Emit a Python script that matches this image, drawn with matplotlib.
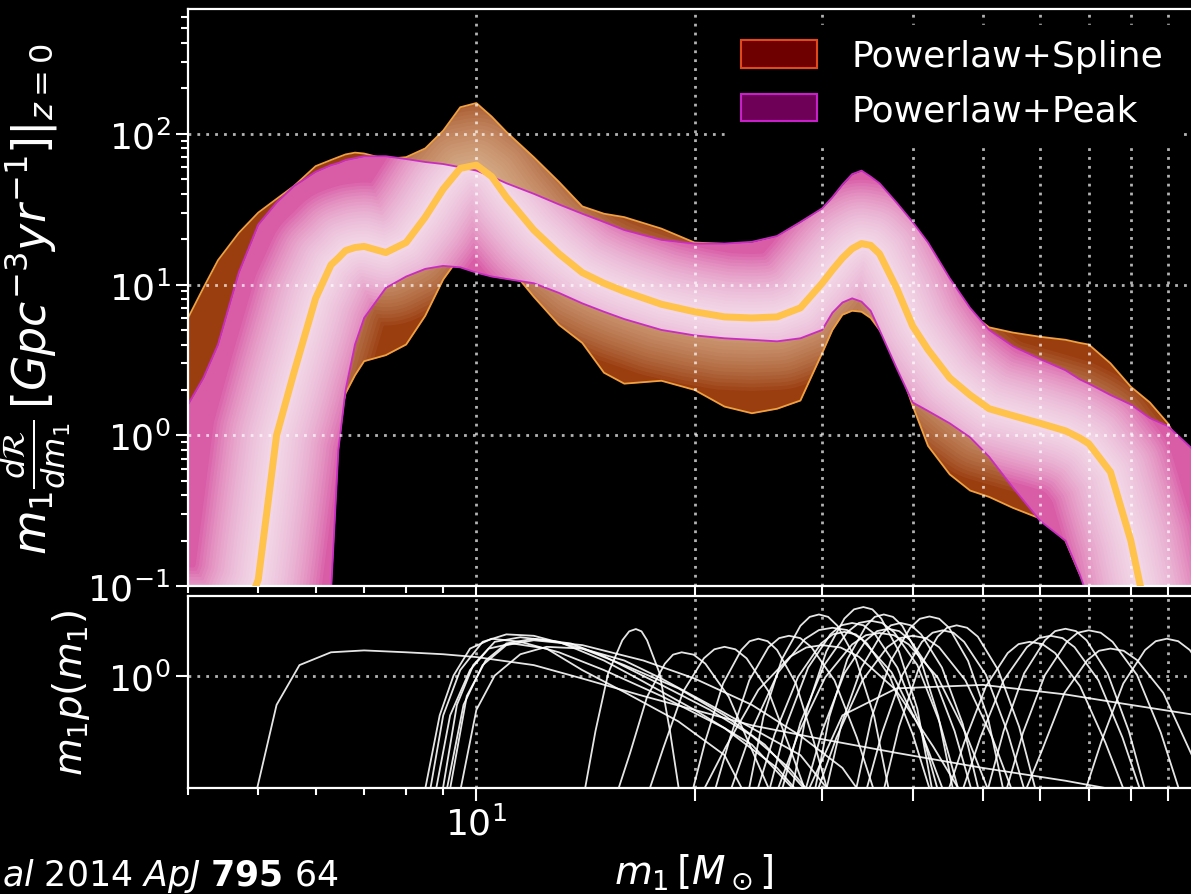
import numpy as np
import matplotlib
matplotlib.use("Agg")
import matplotlib.pyplot as plt
from matplotlib.patches import Patch
from matplotlib.ticker import FixedLocator, FixedFormatter, NullLocator, LogLocator, NullFormatter

# ---------------- data ----------------
m_grid = [3.9, 4.0, 4.2, 4.4, 4.7, 5.0, 5.3, 5.6, 6.0, 6.3, 6.45, 6.6, 6.8, 7.0, 7.5, 8.0, 8.5, 9.0, 9.5, 10,
          10.5, 11, 12, 13, 14, 15, 16, 18, 20, 22, 24, 26, 28, 30, 31, 32, 33, 34, 35, 36,
          38, 40, 42, 45, 48, 51, 55, 60, 65, 68, 70, 75, 80, 85, 90, 99]

spline_hi = [5.0, 6.0, 9.5, 14.5, 22, 30, 37, 45, 61, 67, 70, 73, 75, 74, 68, 70, 80, 105, 150, 160,
             130, 103, 70, 48, 33, 29.5, 28, 23.5, 19, 18.6, 18.3, 20.5, 25, 31, 36, 41, 45, 46, 43, 39,
             30, 23.5, 16, 9.5, 6.5, 5.2, 4.8, 4.5, 4.3, 4.1, 4.0, 3.0, 2.1, 1.65, 1.2, 0.52]
spline_lo = [0.05, 0.05, 0.05, 0.05, 0.05, 0.05, 0.05, 0.05, 0.08, 0.5, 1.2, 1.9, 2.5, 3.1, 3.4, 4.0, 6.2, 10.8, 15.5, 17,
             16.5, 13.8, 8.3, 5.4, 4.1, 2.6, 2.2, 2.3, 2.0, 1.55, 1.4, 1.5, 1.7, 3.5, 5.0, 6.3, 6.7, 6.6, 6.0, 5.0,
             3.2, 1.57, 0.85, 0.55, 0.43, 0.39, 0.33, 0.28, 0.2, 0.12, 0.09, 0.05, 0.05, 0.05, 0.05, 0.05]
peak_hi = [1.4, 1.6, 2.4, 4.0, 12, 25, 35, 45, 56, 62, 64, 67, 69, 71, 71, 68, 65, 63, 60, 57,
           52, 47, 40, 34, 29.5, 26, 23, 19.8, 18.7, 18.7, 19.2, 21, 26, 32, 38, 46, 54, 57, 52, 47,
           35, 26, 19, 11, 7, 5, 3.9, 3.2, 2.7, 2.35, 2.2, 1.85, 1.6, 1.3, 1.15, 0.75]
peak_lo = [0.05, 0.05, 0.05, 0.05, 0.05, 0.05, 0.05, 0.05, 0.05, 0.09, 0.8, 2.0, 4.0, 6.0, 9.5, 11.3, 12.7, 13.3, 13.0, 12.0,
           11.3, 10.9, 10.2, 8.8, 7.5, 6.6, 5.9, 5.0, 4.6, 4.4, 4.3, 4.2, 4.4, 5.0, 6.5, 7.6, 8.1, 7.7, 6.7, 5.0,
           2.8, 1.65, 1.45, 1.2, 0.97, 0.72, 0.45, 0.27, 0.2, 0.12, 0.08, 0.05, 0.05, 0.05, 0.05, 0.05]
median = [0.05, 0.05, 0.05, 0.05, 0.05, 0.11, 1.0, 2.6, 8.1, 13.5, 15, 16.8, 17.6, 17.9, 16.3, 19, 28, 43, 59, 62,
          52, 38, 23, 16, 12, 10.2, 9.0, 7.4, 6.6, 6.1, 6.0, 6.1, 7.0, 10.2, 12.5, 15, 17.3, 18.7, 18.2, 16,
          9.5, 5.3, 3.7, 2.4, 1.85, 1.5, 1.35, 1.2, 1.07, 0.96, 0.88, 0.57, 0.2, 0.05, 0.05, 0.05]

legend_labels = ["Powerlaw+Spline", "Powerlaw+Peak"]

# individual-event curves of the lower panel: (masses, m1 p(m1))
event_curves = [
    ([4.95, 5.3, 5.7, 6.3, 7.0, 8.0, 9.0, 10, 12, 14, 17, 20, 24, 30, 38, 50, 65, 80, 99],
     [0.12, 0.6, 1.2, 1.5, 1.55, 1.5, 1.45, 1.38, 1.2, 0.95, 0.7, 0.55, 0.42, 0.33, 0.26, 0.2, 0.16, 0.13, 0.11]),
    ([8.4, 8.9, 9.3, 9.8, 10.5, 11.5, 13, 15, 18, 22, 26, 29], [0.1, 0.5, 1.0, 1.6, 1.9, 1.8, 1.5, 1.1, 0.7, 0.4, 0.2, 0.1]),
    ([8.55, 9.0, 9.5, 10.2, 11, 12, 14, 16, 19, 22, 25, 28, 30], [0.1, 0.5, 1.1, 1.8, 2.05, 2.0, 1.6, 1.2, 0.8, 0.5, 0.3, 0.15, 0.1]),
    ([8.9, 9.4, 9.9, 10.6, 11.5, 13, 15, 17, 20, 24, 27, 29], [0.1, 0.6, 1.2, 1.8, 1.95, 1.8, 1.3, 0.9, 0.55, 0.3, 0.15, 0.1]),
    ([9.0, 9.6, 10.2, 11, 12, 14, 17, 20, 24, 28, 32, 35], [0.1, 0.6, 1.2, 1.7, 1.85, 1.7, 1.3, 0.95, 0.6, 0.35, 0.2, 0.1]),
    ([9.4, 10, 10.6, 11.5, 12.5, 14, 16, 18, 21, 24, 28, 32], [0.1, 0.55, 1.0, 1.45, 1.65, 1.6, 1.3, 0.95, 0.6, 0.4, 0.25, 0.1]),
    ([9.1, 9.7, 10.3, 11, 12, 13.5, 15, 18, 21, 24, 27, 30], [0.1, 0.7, 1.3, 1.75, 1.9, 1.75, 1.4, 0.85, 0.55, 0.35, 0.2, 0.1]),
    ([8.7, 9.2, 9.8, 10.4, 11.2, 12.5, 14, 16, 19, 22, 24], [0.1, 0.5, 1.1, 1.6, 1.75, 1.6, 1.1, 0.75, 0.45, 0.25, 0.1]),
    ([13.97, 14.6, 15.2, 15.9, 16.25, 16.6, 16.9, 17.2, 17.9, 18.5, 19.2], [0.1, 0.38, 1.04, 1.85, 2.16, 2.25, 2.16, 1.85, 1.04, 0.38, 0.1]),
    ([15.4, 16.3, 17.2, 18.2, 18.68, 19.2, 19.94, 20.7, 22.3, 24.1, 26], [0.1, 0.26, 0.69, 1.23, 1.44, 1.5, 1.44, 1.23, 0.69, 0.26, 0.1]),
    ([19.6, 20.7, 21.9, 23.2, 23.83, 24.5, 25.23, 26.0, 27.6, 29.2, 31], [0.1, 0.32, 0.87, 1.56, 1.82, 1.9, 1.82, 1.56, 0.87, 0.32, 0.1]),
    ([17, 18.1, 19.3, 20.6, 21.3, 22, 22.77, 23.6, 25.3, 27.1, 29], [0.1, 0.28, 0.76, 1.35, 1.58, 1.65, 1.58, 1.35, 0.76, 0.28, 0.1]),
    ([23.5, 24.9, 26.4, 28.0, 28.84, 29.7, 30.58, 31.5, 33.4, 35.4, 37.5], [0.1, 0.49, 1.33, 2.38, 2.78, 2.9, 2.78, 2.38, 1.33, 0.49, 0.1]),
    ([27, 28.6, 30.4, 32.2, 33.2, 34.2, 35.19, 36.2, 38.3, 40.6, 43], [0.1, 0.56, 1.52, 2.7, 3.17, 3.3, 3.17, 2.7, 1.52, 0.56, 0.1]),
    ([33, 35.1, 37.3, 39.7, 40.92, 42.2, 43.52, 44.9, 47.7, 50.8, 54], [0.1, 0.48, 1.29, 2.3, 2.69, 2.8, 2.69, 2.3, 1.29, 0.48, 0.1]),
    ([28, 30.0, 32.2, 34.5, 35.73, 37, 38.32, 39.7, 42.6, 45.7, 49], [0.1, 0.38, 1.04, 1.85, 2.17, 2.26, 2.17, 1.85, 1.04, 0.38, 0.1]),
    ([24, 25.8, 27.8, 29.9, 31.04, 32.2, 33.39, 34.6, 37.2, 40.0, 43], [0.1, 0.36, 0.98, 1.75, 2.05, 2.14, 2.05, 1.75, 0.98, 0.36, 0.1]),
    ([26, 28.0, 30.2, 32.5, 33.72, 35, 36.31, 37.7, 40.6, 43.6, 47], [0.1, 0.44, 1.2, 2.13, 2.5, 2.6, 2.5, 2.13, 1.2, 0.44, 0.1]),
    ([30, 31.9, 34.0, 36.2, 37.32, 38.5, 39.78, 41.1, 43.9, 46.9, 50], [0.1, 0.43, 1.15, 2.05, 2.4, 2.5, 2.4, 2.05, 1.15, 0.43, 0.1]),
    ([22, 24.0, 26.1, 28.4, 29.7, 31, 32.48, 34.0, 37.4, 41.0, 45], [0.1, 0.39, 1.06, 1.89, 2.21, 2.3, 2.21, 1.89, 1.06, 0.39, 0.1]),
    ([25.5, 27.8, 30.3, 33.0, 34.48, 36, 37.69, 39.5, 43.3, 47.4, 52], [0.1, 0.36, 0.97, 1.72, 2.02, 2.1, 2.02, 1.72, 0.97, 0.36, 0.1]),
    ([29, 31.4, 34.1, 36.9, 38.42, 40, 41.72, 43.5, 47.3, 51.5, 56], [0.1, 0.34, 0.92, 1.64, 1.92, 2.0, 1.92, 1.64, 0.92, 0.34, 0.1]),
    ([25, 26.8, 28.7, 30.8, 31.87, 33, 34.21, 35.5, 38.1, 40.9, 44], [0.1, 0.43, 1.15, 2.05, 2.4, 2.5, 2.4, 2.05, 1.15, 0.43, 0.1]),
    ([34, 36.3, 38.7, 41.2, 42.61, 44, 45.54, 47.1, 50.5, 54.1, 58], [0.1, 0.37, 1.01, 1.8, 2.11, 2.2, 2.11, 1.8, 1.01, 0.37, 0.1]),
    ([21, 22.4, 23.8, 25.3, 26.17, 27, 27.99, 29.0, 31.2, 33.5, 36], [0.1, 0.34, 0.92, 1.64, 1.92, 2.0, 1.92, 1.64, 0.92, 0.34, 0.1]),
    ([36, 38.3, 40.7, 43.3, 44.61, 46, 47.55, 49.2, 52.5, 56.1, 60], [0.1, 0.41, 1.1, 1.97, 2.3, 2.4, 2.3, 1.97, 1.1, 0.41, 0.1]),
    ([20, 22.1, 24.5, 27.1, 28.52, 30, 31.82, 33.7, 37.9, 42.7, 48], [0.1, 0.29, 0.78, 1.39, 1.63, 1.7, 1.63, 1.39, 0.78, 0.29, 0.1]),
    ([29, 30.7, 32.5, 34.5, 35.46, 36.5, 37.57, 38.7, 41.0, 43.4, 46], [0.1, 0.49, 1.33, 2.38, 2.78, 2.9, 2.78, 2.38, 1.33, 0.49, 0.1]),
    ([50, 53.4, 57.0, 60.9, 62.9, 65, 67.2, 69.5, 74.3, 79.5, 85], [0.1, 0.38, 1.04, 1.85, 2.17, 2.26, 2.17, 1.85, 1.04, 0.38, 0.1]),
    ([46, 49.6, 53.4, 57.5, 59.7, 62, 64.4, 66.9, 72.2, 77.9, 84], [0.1, 0.34, 0.92, 1.64, 1.92, 2.0, 1.92, 1.64, 0.92, 0.34, 0.1]),
    ([44, 47.1, 50.5, 54.1, 56.0, 58, 60.4, 62.9, 68.1, 73.8, 80], [0.1, 0.31, 0.83, 1.48, 1.73, 1.8, 1.73, 1.48, 0.83, 0.31, 0.1]),
    ([53, 56.8, 60.9, 65.3, 67.6, 70, 72.7, 75.5, 81.6, 88.0, 95], [0.1, 0.37, 1.01, 1.8, 2.11, 2.2, 2.11, 1.8, 1.01, 0.37, 0.1]),
    ([68, 72.9, 78.1, 83.7, 86.6, 89.7, 93.0, 96.5, 103.8, 111.6, 120], [0.1, 0.32, 0.87, 1.56, 1.82, 1.9, 1.82, 1.56, 0.87, 0.32, 0.1]),
    ([56, 60.3, 64.8, 69.7, 72.3, 75, 78.2, 81.6, 88.7, 96.5, 105], [0.1, 0.27, 0.74, 1.31, 1.54, 1.6, 1.54, 1.31, 0.74, 0.27, 0.1]),
    ([28, 32, 38, 50, 65, 80, 99], [0.1, 0.5, 0.8, 0.85, 0.72, 0.6, 0.5]),
]

# ---------------- figure ----------------
W, H = 1191, 895
fig = plt.figure(figsize=(W / 100, H / 100), dpi=100, facecolor="black")
ax = fig.add_axes([188 / W, 1 - 587 / H, (1195 - 188) / W, (587 - 10) / H])
axb = fig.add_axes([188 / W, 1 - 789 / H, (1195 - 188) / W, (789 - 597) / H])

m = np.array(m_grid)


def band(lo, hi, base, glow_color, widths, glow_alpha, edge, z):
    poly = ax.fill_between(m, lo, hi, color=base, lw=0, zorder=z)
    clip = poly.get_paths()[0]
    for lw in widths:
        ln, = ax.plot(m, median, color=glow_color, lw=lw, alpha=glow_alpha, zorder=z + 0.1,
                      solid_joinstyle="round", solid_capstyle="round")
        ln.set_clip_path(clip, ax.transData)
    ax.plot(m, hi, color=edge, lw=1.3, zorder=z + 0.2)
    ax.plot(m, lo, color=edge, lw=1.3, zorder=z + 0.2)


band(spline_lo, spline_hi, "#9a3e10", "#f4dcbc", np.linspace(105, 5, 20), 0.06, "#f0a040", 1)
band(peak_lo, peak_hi, "#d95ca6", "#ffffff", np.linspace(92, 5, 20), 0.075, "#c82cc2", 2)

ax.plot(m, median, color="#ffc24a", lw=5.0, zorder=4, solid_capstyle="round")

for xs, ys in event_curves:
    axb.plot(xs, ys, color="white", lw=1.3, alpha=0.9, zorder=3, solid_joinstyle="round")

# ---------------- axes styling ----------------
for a in (ax, axb):
    a.set_facecolor("black")
    a.set_xscale("log")
    a.set_yscale("log")
    a.set_xlim(4.0, 98.1)
    for s in a.spines.values():
        s.set_color("white")
        s.set_linewidth(1.6)
    a.tick_params(which="both", colors="white", direction="out", labelsize=26, width=1.5)
    a.tick_params(which="major", length=9)
    a.tick_params(which="minor", length=5)
    a.xaxis.set_major_locator(FixedLocator([10, 20, 30, 40, 50, 60, 70, 80, 90]))
    a.xaxis.set_minor_locator(FixedLocator([4, 5, 6, 7, 8, 9]))
    a.xaxis.set_minor_formatter(NullFormatter())
    a.grid(True, which="major", color="white", linestyle=(0, (1, 2.2)), lw=2.0, alpha=0.7, zorder=5)
    a.set_axisbelow(False)

ax.set_ylim(0.1, 10 ** 2.828)
ax.yaxis.set_major_locator(LogLocator(base=10, numticks=10))
ax.yaxis.set_minor_locator(LogLocator(base=10, subs=np.arange(2, 10), numticks=20))
ax.yaxis.set_minor_formatter(NullFormatter())
ax.xaxis.set_major_formatter(NullFormatter())

axb.set_ylim(0.141, 4.0)
axb.yaxis.set_major_locator(FixedLocator([1.0]))
axb.yaxis.set_major_formatter(FixedFormatter([r"$10^0$"]))
axb.yaxis.set_minor_locator(NullLocator())
axb.xaxis.set_major_formatter(FixedFormatter([r"$10^1$"] + [""] * 8))

ax.set_ylabel(r"$m_1\frac{d\mathcal{R}}{dm_1}\,[Gpc^{-3}yr^{-1}]|_{z=0}$", color="white", fontsize=33)
ax.yaxis.set_label_coords(-(188 - 73) / 1007, 0.5)
axb.set_ylabel(r"$m_1p(m_1)$", color="white", fontsize=28)
axb.yaxis.set_label_coords(-(188 - 92) / 1007, 0.5)
axb.set_xlabel(r"$m_1\,[M_\odot]$", color="white", fontsize=28)
axb.xaxis.set_label_coords(0.502, -0.33)

handles = [Patch(facecolor="#6e0000", edgecolor="#e2481a", lw=1.5),
           Patch(facecolor="#6e0058", edgecolor="#c820c8", lw=1.5)]
leg = ax.legend(handles, legend_labels, loc="upper right", fontsize=26, facecolor="black",
                edgecolor="black", framealpha=1, labelcolor="white", handlelength=2.1,
                handleheight=0.8, bbox_to_anchor=(0.99, 0.985), borderaxespad=0.2,
                labelspacing=0.55, handletextpad=0.95)
leg.set_zorder(10)

fig.text(2 / W, 1 - 886 / H, r"$\mathit{al}$ 2014 $\mathit{ApJ}$ $\mathbf{795}$ 64", color="white",
         fontsize=25, ha="left", va="baseline")

fig.savefig("out.png", dpi=100, facecolor="black")
